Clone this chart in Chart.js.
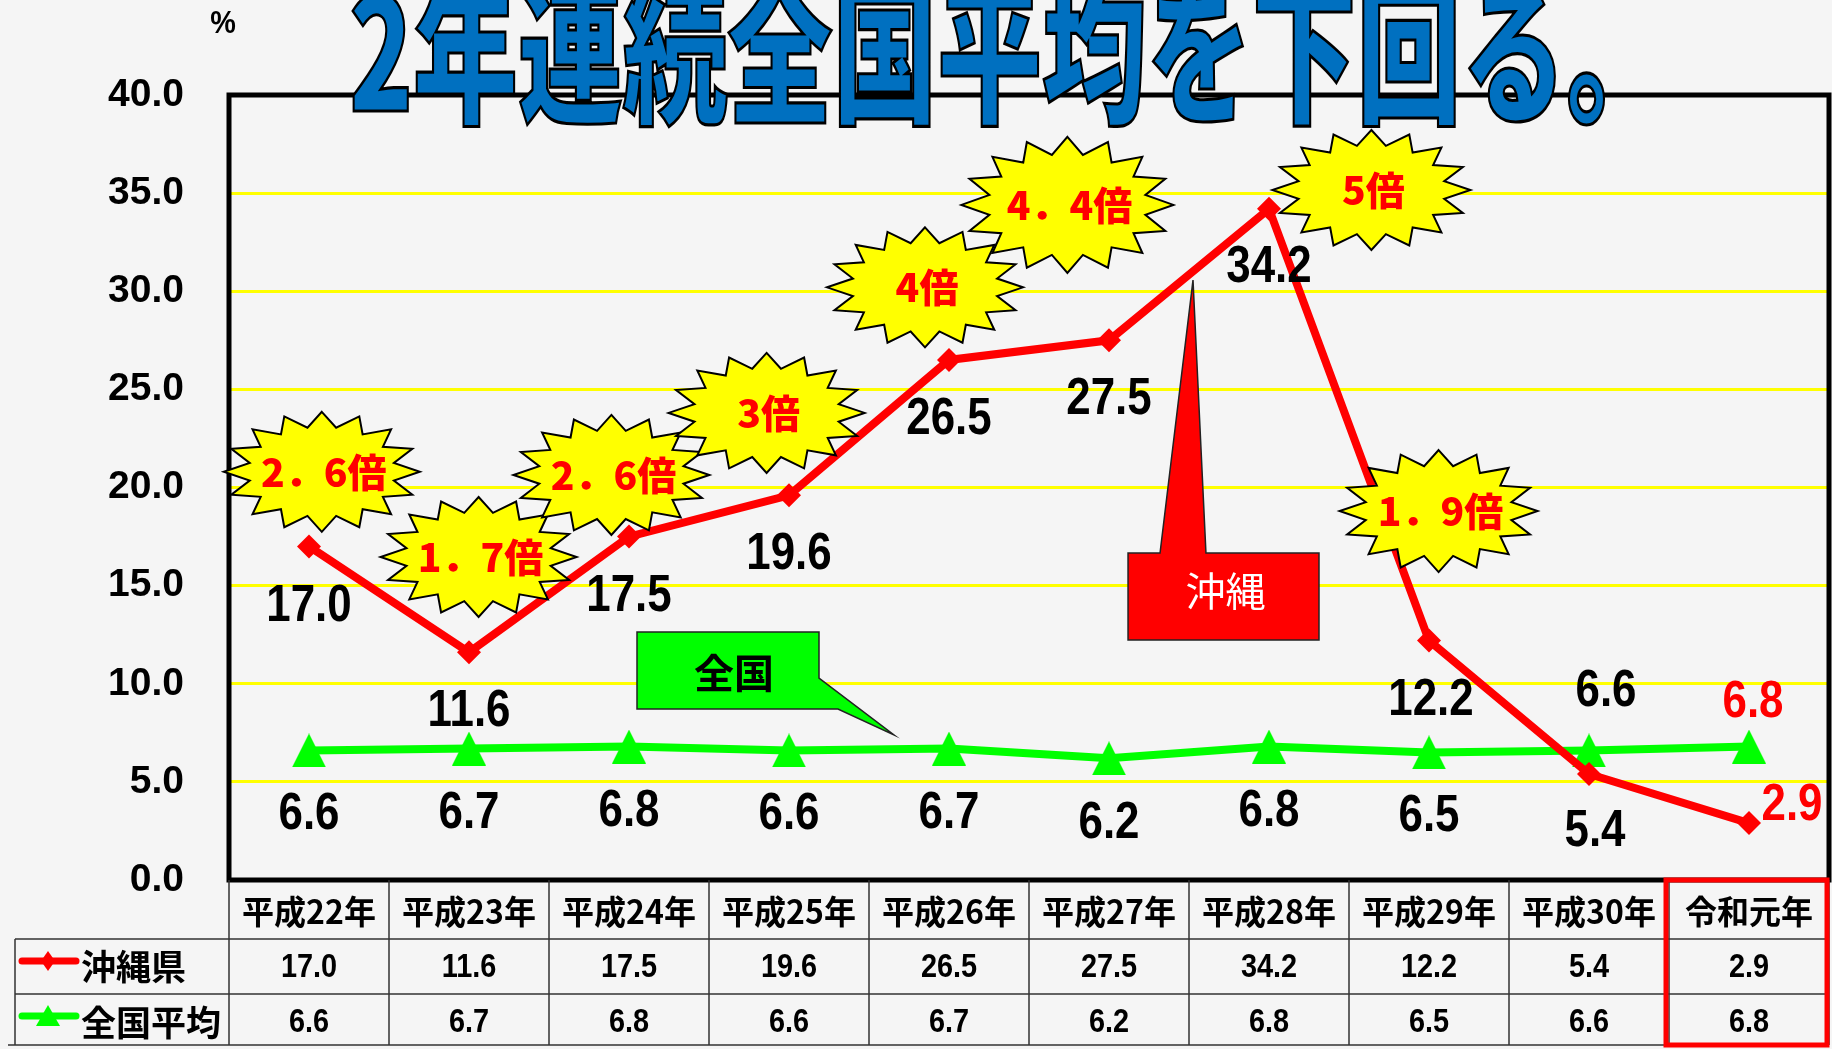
<!DOCTYPE html>
<html><head><meta charset="utf-8">
<script src="https://cdn.jsdelivr.net/npm/chart.js@4.4.1/dist/chart.umd.min.js"></script>
<style>html,body{margin:0;padding:0;background:#f5f5f5;overflow:hidden}canvas{display:block}</style>
</head><body>
<canvas id="c" width="1832" height="1049" style="width:1832px;height:1049px"></canvas>
<script>
// ---- data ----
const categories = ['平成22年','平成23年','平成24年','平成25年','平成26年','平成27年','平成28年','平成29年','平成30年','令和元年'];
const okinawa  = [17.0, 11.6, 17.5, 19.6, 26.5, 27.5, 34.2, 12.2, 5.4, 2.9];
const national = [6.6, 6.7, 6.8, 6.6, 6.7, 6.2, 6.8, 6.5, 6.6, 6.8];
const yTicks = [0, 5, 10, 15, 20, 25, 30, 35, 40];
const seriesNames = ['沖縄県', '全国平均'];
const titleText = '2年連続全国平均を下回る。';
const unitText = '%';
const ratioLabels = ['2．6倍','1．7倍','2．6倍','3倍','4倍','4．4倍','5倍','1．9倍'];
const calloutTexts = ['全国', '沖縄'];

// ---- annotation anchors (axis units: category index, %) ----
const burstAt = [[0.08,20.8],[1.06,16.46],[1.89,20.64],[2.86,23.8],[3.85,30.2],[4.74,34.4],[6.64,35.16],[7.06,18.8]];
const burstSize = [[98,60],[98,60],[98,60],[98,60],[98,60],[106,68],[99,60],[99,61]];
// label pixel offsets from points
const okiLabelOff = [[0,61],[0,60],[0,60],[0,60],[0,60],[0,60],[0,59],[2,60],[6,58],[43,-17]];
const natLabelOff = [[0,64],[0,65],[0,65],[0,64],[0,65],[0,66],[0,65],[0,64],[17,-59],[4,-44]];

const RED = '#ff0000', GREEN = '#00ff00';
const NUMFONT = '"Liberation Sans", Arial, sans-serif';
const CJK = '"Noto Sans CJK JP", "Noto Sans CJK SC", sans-serif';

function triCanvas(w, h, color) {
  const c = document.createElement('canvas');
  c.width = w; c.height = h;
  const g = c.getContext('2d');
  g.fillStyle = color;
  g.beginPath(); g.moveTo(w/2, 0); g.lineTo(w, h); g.lineTo(0, h); g.closePath(); g.fill();
  return c;
}
const triMarker = triCanvas(34, 34, GREEN);

function txt(ctx, s, x, y, font, color, sx, align) {
  ctx.save();
  ctx.font = font; ctx.fillStyle = color;
  ctx.textAlign = align || 'center'; ctx.textBaseline = 'middle';
  ctx.translate(x, y); ctx.scale(sx || 1, 1);
  ctx.fillText(s, 0, 0);
  ctx.restore();
}
function star(ctx, cx, cy, rx, ry, n, inner) {
  ctx.beginPath();
  for (let k = 0; k < 2*n; k++) {
    const ang = -Math.PI/2 + k*Math.PI/n;
    const r = (k % 2 === 0) ? 1 : inner;
    const px = cx + Math.cos(ang)*rx*r, py = cy + Math.sin(ang)*ry*r;
    if (k === 0) ctx.moveTo(px, py); else ctx.lineTo(px, py);
  }
  ctx.closePath();
  ctx.fillStyle = '#ffff00'; ctx.fill();
  ctx.lineWidth = 2; ctx.strokeStyle = '#000'; ctx.stroke();
}

const decor = {
  id: 'decor',
  beforeDraw(chart) {
    const ctx = chart.ctx;
    ctx.save(); ctx.fillStyle = '#f5f5f5'; ctx.fillRect(0, 0, chart.width, chart.height); ctx.restore();
  },
  afterDatasetsDraw(chart) {
    const ctx = chart.ctx, a = chart.chartArea;
    const xs = chart.scales.x, ys = chart.scales.y;
    const X = v => xs.getPixelForValue(v), Y = v => ys.getPixelForValue(v);
    const colW = (a.right - a.left) / categories.length;

    // frame
    ctx.save(); ctx.lineWidth = 5; ctx.strokeStyle = '#000';
    ctx.strokeRect(a.left, a.top, a.right - a.left, a.bottom - a.top); ctx.restore();

    // unit
    txt(ctx, unitText, a.left - 6, 24, 'bold 32px ' + NUMFONT, '#000', 0.9);

    // green callout 全国
    ctx.save();
    ctx.beginPath();
    ctx.moveTo(X(2.05), Y(12.64)); ctx.lineTo(X(3.1875), Y(12.64)); ctx.lineTo(X(3.1875), Y(10.29));
    ctx.lineTo(X(3.656), Y(7.39)); ctx.lineTo(X(3.306), Y(8.71)); ctx.lineTo(X(2.05), Y(8.71));
    ctx.closePath(); ctx.fillStyle = GREEN; ctx.fill();
    ctx.lineWidth = 1.5; ctx.strokeStyle = '#222'; ctx.stroke(); ctx.restore();
    txt(ctx, calloutTexts[0], (X(2.05)+X(3.1875))/2 + 6, (Y(12.64)+Y(8.71))/2 + 2, 'bold 40px ' + CJK, '#000');

    // red callout 沖縄
    ctx.save();
    ctx.beginPath();
    ctx.moveTo(X(5.119), Y(16.66)); ctx.lineTo(X(5.319), Y(16.66)); ctx.lineTo(X(5.525), Y(30.57));
    ctx.lineTo(X(5.606), Y(16.66)); ctx.lineTo(X(6.3125), Y(16.66)); ctx.lineTo(X(6.3125), Y(12.23));
    ctx.lineTo(X(5.119), Y(12.23)); ctx.closePath();
    ctx.fillStyle = RED; ctx.fill(); ctx.lineWidth = 1.5; ctx.strokeStyle = '#222'; ctx.stroke(); ctx.restore();
    txt(ctx, calloutTexts[1], (X(5.119)+X(6.3125))/2 + 2, (Y(16.66)+Y(12.23))/2 - 6, '400 40px ' + CJK, '#fff');

    // bursts
    burstAt.forEach((p, i) => {
      const cx = X(p[0]), cy = Y(p[1]);
      star(ctx, cx, cy, burstSize[i][0], burstSize[i][1], 16, 0.75);
      txt(ctx, ratioLabels[i], cx + 2, cy, '900 39px ' + CJK, RED);
    });

    // value labels
    const last = categories.length - 1;
    okinawa.forEach((v, i) => {
      txt(ctx, v.toFixed(1), X(i) + okiLabelOff[i][0], Y(v) + okiLabelOff[i][1], 'bold 51px ' + NUMFONT, i === last ? RED : '#000', 0.86);
    });
    national.forEach((v, i) => {
      txt(ctx, v.toFixed(1), X(i) + natLabelOff[i][0], Y(v) + natLabelOff[i][1], 'bold 51px ' + NUMFONT, i === last ? RED : '#000', 0.86);
    });

    // data table
    const top = a.bottom, r1 = 939, r2 = 994, bot = 1045, legL = 15;
    ctx.save(); ctx.strokeStyle = '#333'; ctx.lineWidth = 1.5;
    ctx.beginPath();
    for (let i = 0; i <= categories.length; i++) {
      const x = a.left + i*colW;
      ctx.moveTo(x, top); ctx.lineTo(x, bot);
    }
    ctx.moveTo(legL, r1); ctx.lineTo(a.right, r1);
    ctx.moveTo(legL, r2); ctx.lineTo(a.right, r2);
    ctx.moveTo(8, bot); ctx.lineTo(a.right, bot);
    ctx.moveTo(legL, r1); ctx.lineTo(legL, bot);
    ctx.stroke(); ctx.restore();

    categories.forEach((c, i) => {
      txt(ctx, c, X(i), (top + r1)/2 + 2, 'bold 33px ' + CJK, '#000', 0.97);
      txt(ctx, okinawa[i].toFixed(1), X(i), (r1 + r2)/2 + 1, 'bold 34px ' + NUMFONT, '#000', 0.85);
      txt(ctx, national[i].toFixed(1), X(i), (r2 + bot)/2 + 3, 'bold 34px ' + NUMFONT, '#000', 0.85);
    });

    // legend keys
    ctx.save();
    ctx.lineCap = 'round';
    ctx.strokeStyle = RED; ctx.lineWidth = 7;
    ctx.beginPath(); ctx.moveTo(22, 961); ctx.lineTo(76, 961); ctx.stroke();
    ctx.fillStyle = RED; ctx.beginPath();
    ctx.moveTo(48, 951); ctx.lineTo(55, 961); ctx.lineTo(48, 971); ctx.lineTo(41, 961); ctx.closePath(); ctx.fill();
    ctx.strokeStyle = GREEN;
    ctx.beginPath(); ctx.moveTo(22, 1016); ctx.lineTo(76, 1016); ctx.stroke();
    ctx.fillStyle = GREEN; ctx.beginPath();
    ctx.moveTo(48, 1005); ctx.lineTo(60, 1026); ctx.lineTo(36, 1026); ctx.closePath(); ctx.fill();
    ctx.restore();
    txt(ctx, seriesNames[0], 81, 967, 'bold 35px ' + CJK, '#000', 1, 'left');
    txt(ctx, seriesNames[1], 81, 1023, 'bold 35px ' + CJK, '#000', 1, 'left');

    // red highlight box on last column
    ctx.save(); ctx.strokeStyle = RED; ctx.lineWidth = 5;
    ctx.strokeRect(a.left + last*colW - 3, top, colW + 1, bot - top); ctx.restore();

    // title (ink fitted to x 352..1604, bottom at ~125)
    ctx.save();
    ctx.font = '900 150px ' + CJK;
    ctx.textAlign = 'left'; ctx.textBaseline = 'alphabetic';
    const m = ctx.measureText(titleText);
    const inkW = m.actualBoundingBoxLeft + m.actualBoundingBoxRight;
    const sx = (1604 - 352) / inkW;
    ctx.translate(352 + m.actualBoundingBoxLeft * sx, 126 - m.actualBoundingBoxDescent);
    ctx.scale(sx, 1.04);
    ctx.fillStyle = '#0070c0'; ctx.fillText(titleText, 0, 0);
    ctx.lineWidth = 3; ctx.strokeStyle = '#000'; ctx.strokeText(titleText, 0, 0);
    ctx.restore();
  }
};

new Chart(document.getElementById('c'), {
  type: 'line',
  data: {
    labels: categories,
    datasets: [
      { label: seriesNames[0], data: okinawa, borderColor: RED, backgroundColor: RED, borderWidth: 8,
        pointStyle: 'rectRot', pointRadius: 12, pointBorderWidth: 0, tension: 0 },
      { label: seriesNames[1], data: national, borderColor: GREEN, backgroundColor: GREEN, borderWidth: 8,
        pointStyle: triMarker, pointRadius: 17, tension: 0 }
    ]
  },
  options: {
    responsive: false, animation: false, devicePixelRatio: 1,
    layout: { autoPadding: false, padding: { top: 95, right: 3, bottom: 169, left: 0 } },
    plugins: { legend: { display: false }, tooltip: { enabled: false } },
    scales: {
      x: { type: 'category', offset: true, display: false },
      y: {
        min: 0, max: 40,
        afterFit(s) { s.width = 229; },
        afterBuildTicks(s) { s.ticks = yTicks.map(v => ({ value: v })); },
        ticks: { padding: 45, color: '#000', callback: v => Number(v).toFixed(1),
          font: { family: "'Liberation Sans', Arial", size: 39, weight: 'bold' } },
        grid: { color: '#ffff00', lineWidth: 3, drawTicks: false },
        border: { display: false }
      }
    }
  },
  plugins: [decor]
});
</script>
</body></html>
